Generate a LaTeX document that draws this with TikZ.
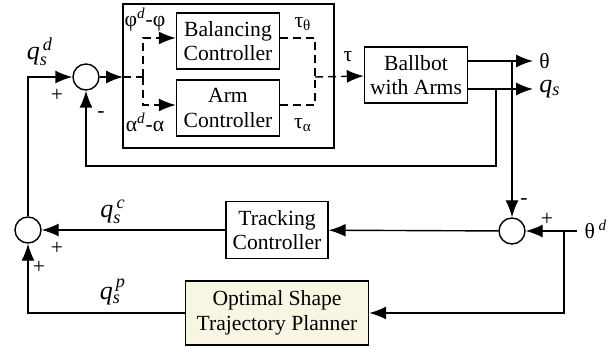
\documentclass[tikz,border=0pt]{standalone}
\usepackage{fontspec}
\setmainfont{Liberation Serif}
\usepackage{tikz}
\usetikzlibrary{arrows.meta,positioning}
\definecolor{plan}{RGB}{248,245,227}
\tikzstyle{block} = [rectangle, draw, line width=0.7pt, align=center, minimum width=51.5pt, minimum height=28pt, inner sep=1pt, font=\fontsize{10.8}{12.2}\selectfont]
\tikzstyle{sum} = [circle, draw, line width=0.7pt, minimum size=13pt, inner sep=0pt]
\tikzstyle{line} = [draw, line width=0.7pt, -{Latex[length=8.5pt,width=6.5pt]}]
\tikzstyle{dline} = [line, dash pattern=on 4pt off 2.5pt]
\tikzstyle{dash line} = [draw, line width=0.7pt, dash pattern=on 4pt off 2.5pt]
\tikzstyle{lbl} = [font=\fontsize{10.8}{12}\selectfont, inner sep=0pt]
\tikzstyle{qlbl} = [font=\fontsize{13}{14}\selectfont, inner sep=0pt]

\begin{document}
\begin{tikzpicture}[x=0.5pt, y=-0.5pt]
    \useasboundingbox (0,0) rectangle (615,347);
    \draw [line width=0.7pt] (123,4) rectangle (334,148);

    \node [block] (bal) at (228,41) {Balancing\\Controller};
    \node [block] (arm) at (228,108) {Arm\\Controller};
    \node [block] (ballbot) at (416,75) {Ballbot\\with Arms};
    \node [block, minimum width=51pt, minimum height=28.5pt] (track) at (277,230) {Tracking\\Controller};
    \node [block, fill=plan, minimum width=91.5pt, minimum height=32pt] (planner) at (277,313) {Optimal Shape\\Trajectory Planner};
    \node [sum] (sumA) at (86,77) {};
    \node [sum] (sumB) at (512,231) {};
    \node [sum] (sumC) at (28,230) {};

    \coordinate (boxin) at (123,77);
    \coordinate (split) at (143,77);
    \coordinate (merge) at (315,77);
    \coordinate (thout) at (533,61);
    \coordinate (qout) at (533,89);
    \coordinate (tapth) at (512,61);
    \coordinate (tapq) at (496,89);
    \coordinate (fb) at (86,166);
    \coordinate (thd) at (577,231);
    \coordinate (tapd) at (564,231);

    % inner loop
    \path [line] (sumA) -- (boxin);
    \path [dash line] (boxin) -- (split);
    \path [dline] (split) |- ([yshift=1.5pt]bal.west);
    \path [dline] (split) |- ([yshift=1.5pt]arm.west);
    \path [dash line] ([yshift=1.5pt]bal.east) -| (merge);
    \path [dash line] ([yshift=1.5pt]arm.east) -| (merge);
    \path [dline] (merge) -- (ballbot);
    \path [line] ([yshift=7pt]ballbot.east) -- (thout);
    \path [line] ([yshift=-7pt]ballbot.east) -- (qout);
    \path [line] (tapq) |- (fb) -- (sumA);

    % outer loop
    \path [line] (tapth) -- (sumB);
    \path [line] (thd) -- (sumB);
    \path [line] (tapd) |- (planner);
    \path [line] (sumB) -- (track);
    \path [line] (track) -- (sumC);
    \path [line] (planner) -| (sumC);
    \path [line] (sumC) |- (sumA);

    \node [qlbl] (lqd) at (40,52) {\textit{q}$_{\mathit{s}}^{\,\mathit{d}}$};
    \node [lbl] (pA) at (57,95) {+};
    \node [lbl] (mA) at (101,115) {-};
    \node [lbl] (lphi) at (145,20) {φ\textsuperscript{\textit{d}}-φ};
    \node [lbl] (lalpha) at (145,122) {α\textsuperscript{\textit{d}}-α};
    \node [lbl] (ltauth) at (303,24) {τ\textsubscript{θ}};
    \node [lbl] (ltaual) at (303,125) {τ\textsubscript{α}};
    \node [lbl] (ltau) at (348,57) {τ};
    \node [lbl, right=3pt of thout] (lth) {θ};
    \node [qlbl, right=3pt of qout] (lq) {\textit{q}$_{\mathit{s}}$};
    \node [qlbl] (lqc) at (113,212) {\textit{q}$_{\mathit{s}}^{\,\mathit{c}}$};
    \node [qlbl] (lqp) at (113,292) {\textit{q}$_{\mathit{s}}^{\,\mathit{p}}$};
    \node [lbl] (lthd) at (596,229) {θ\,\textsuperscript{\textit{d}}};
    \node [lbl] (pC1) at (57,248) {+};
    \node [lbl] (pC2) at (39,267) {+};
    \node [lbl] (mB) at (524,202) {-};
    \node [lbl] (pB) at (547,219) {+};
\end{tikzpicture}
\end{document}
